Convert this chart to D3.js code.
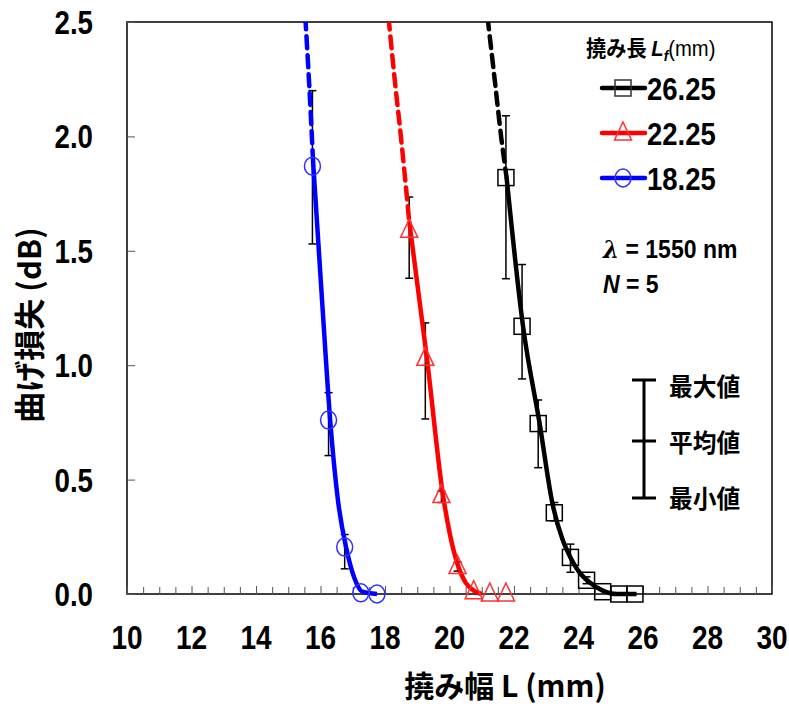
<!DOCTYPE html>
<html>
<head>
<meta charset="utf-8">
<script src="https://cdnjs.cloudflare.com/ajax/libs/d3/7.8.5/d3.min.js"></script>
<style>
body { margin: 0; background: #fff; }
svg text { font-family: "Liberation Sans", "Noto Sans CJK JP", sans-serif; font-weight: bold; }
.jp { font-family: "Noto Sans CJK JP", sans-serif; }
</style>
</head>
<body>
<script>
// tick values
var xTicks = [10, 12, 14, 16, 18, 20, 22, 24, 26, 28, 30];
var yTicks = [0.0, 0.5, 1.0, 1.5, 2.0, 2.5];

// legend labels (Lf, mm)
var seriesNames = ["26.25", "22.25", "18.25"];
var seriesColors = ["#000000", "#ff0000", "#0000ff"];
var markerColors = ["#000000", "#ff3030", "#3030ff"];
var markerTypes = ["square", "triangle", "circle"];

// measured points: mean, max, min
var blackX = [21.75, 22.25, 22.75, 23.25, 23.75, 24.25, 24.75, 25.25, 25.75];
var blackY = [1.82, 1.17, 0.745, 0.355, 0.16, 0.06, 0.01, 0.0, 0.0];
var blackMax = [2.09, 1.44, 0.848, 0.40, 0.218, 0.075, null, null, null];
var blackMin = [1.378, 0.94, 0.552, 0.32, 0.095, 0.045, null, null, null];

var redX = [18.75, 19.25, 19.75, 20.25, 20.75, 21.25, 21.75];
var redY = [1.59, 1.03, 0.43, 0.12, 0.01, 0.0, 0.0];
var redMax = [1.735, 1.185, 0.45, 0.14, null, null, null];
var redMin = [1.38, 0.765, 0.40, 0.10, null, null, null];

var blueX = [15.75, 16.25, 16.75, 17.25, 17.75];
var blueY = [1.87, 0.76, 0.205, 0.005, 0.0];
var blueMax = [2.2, 0.88, 0.26, null, null];
var blueMin = [1.53, 0.605, 0.11, null, null];

// fitted curves: solid part and dashed extension
var blackFit = [[21.77, 1.82], [22.28, 1.17], [22.8, 0.74], [23.2, 0.39], [23.5, 0.24], [23.75, 0.16], [24.0, 0.1], [24.35, 0.05], [24.75, 0.015], [25.2, 0.0], [25.8, 0.0]];
var blackExt = [[21.18, 2.52], [21.4, 2.25], [21.6, 2.0], [21.77, 1.82]];
var redFit = [[18.75, 1.63], [19.3, 1.03], [19.8, 0.43], [20.0, 0.27], [20.25, 0.13], [20.5, 0.05], [20.75, 0.015], [21.0, 0.0]];
var redExt = [[18.11, 2.52], [18.3, 2.25], [18.5, 1.99], [18.75, 1.63]];
var blueFit = [[15.77, 1.89], [16.05, 1.28], [16.3, 0.76], [16.55, 0.4], [16.8, 0.2], [17.05, 0.07], [17.3, 0.01], [17.75, 0.0]];
var blueExt = [[15.53, 2.52], [15.66, 2.2], [15.77, 1.89]];

var width = 789, height = 708;
var pLeft = 127, pRight = 772, pTop = 22, pBottom = 594;

var svg = d3.select("body").append("svg")
    .attr("width", width)
    .attr("height", height);

var x = d3.scaleLinear().domain([10, 30]).range([pLeft, pRight]);
var y = d3.scaleLinear().domain([0, 2.5]).range([pBottom, pTop]);

// narrow text: the original font is condensed
function narrowText(g, tx, ty, size, sx, anchor) {
    return g.append("text")
        .attr("transform", "translate(" + tx + "," + ty + ") scale(" + sx + ",1)")
        .attr("text-anchor", anchor || "start")
        .attr("font-size", size);
}

svg.append("defs").append("clipPath").attr("id", "plotclip")
    .append("rect").attr("x", pLeft).attr("y", pTop)
    .attr("width", pRight - pLeft).attr("height", pBottom - pTop + 20);

// frame
svg.append("rect")
    .attr("x", pLeft).attr("y", pTop)
    .attr("width", pRight - pLeft).attr("height", pBottom - pTop)
    .attr("fill", "none").attr("stroke", "#000").attr("stroke-width", 1.5);

// inner ticks
var xAxis = d3.axisTop(x).tickValues(d3.range(10, 30.01, 0.5)).tickSize(7).tickFormat("");
svg.append("g").attr("transform", "translate(0," + pBottom + ")").call(xAxis)
    .call(function(g){ g.select(".domain").remove(); })
    .selectAll(".tick line")
    .attr("y2", function(d){ return (d % 2 === 0) ? -8 : -7; })
    .attr("stroke", "#555").attr("stroke-width", 1);

var yAxis = d3.axisRight(y).tickValues(yTicks).tickSize(8).tickFormat("");
svg.append("g").attr("transform", "translate(" + pLeft + ",0)").call(yAxis)
    .call(function(g){ g.select(".domain").remove(); })
    .selectAll(".tick line").attr("stroke", "#555");

// tick labels
var xLab = svg.append("g");
xTicks.forEach(function(d){
    narrowText(xLab, x(d), 649, 33, 0.85, "middle").text(d);
});
var yLab = svg.append("g");
yTicks.forEach(function(d){
    narrowText(yLab, 93, y(d) + 12, 33, 0.84, "end").text(d.toFixed(1));
});

// axis titles
narrowText(svg, 505, 697, 30, 1, "middle").attr("class", "jp").text("撓み幅 L (mm)");
svg.append("text")
    .attr("class", "jp")
    .attr("transform", "translate(41,325) rotate(-90)")
    .attr("text-anchor", "middle")
    .attr("font-size", 31)
    .text("曲げ損失 (dB)");

var plot = svg.append("g").attr("clip-path", "url(#plotclip)");
var line = d3.line()
    .x(function(d){ return x(d[0]); })
    .y(function(d){ return y(d[1]); })
    .curve(d3.curveMonotoneX);

var series = [
    { xs: blackX, ys: blackY, hi: blackMax, lo: blackMin, fit: blackFit, ext: blackExt },
    { xs: redX, ys: redY, hi: redMax, lo: redMin, fit: redFit, ext: redExt },
    { xs: blueX, ys: blueY, hi: blueMax, lo: blueMin, fit: blueFit, ext: blueExt }
];

function drawMarker(g, type, cx, cy, color) {
    if (type === "square") {
        g.append("rect").attr("x", cx - 8).attr("y", cy - 8)
            .attr("width", 16).attr("height", 16)
            .attr("fill", "none").attr("stroke", color).attr("stroke-width", 1.5);
    } else if (type === "triangle") {
        g.append("path")
            .attr("d", "M" + cx + "," + (cy - 11) + "L" + (cx + 8.5) + "," + (cy + 7) + "L" + (cx - 8.5) + "," + (cy + 7) + "Z")
            .attr("fill", "none").attr("stroke", color).attr("stroke-width", 1.5);
    } else {
        g.append("ellipse").attr("cx", cx).attr("cy", cy)
            .attr("rx", 8).attr("ry", 9)
            .attr("fill", "none").attr("stroke", color).attr("stroke-width", 1.5);
    }
}

// error bars
series.forEach(function(s){
    s.xs.forEach(function(xv, i){
        if (s.hi[i] === null) return;
        var g = plot.append("g").attr("stroke", "#000").attr("stroke-width", 1.5);
        g.append("line").attr("x1", x(xv)).attr("x2", x(xv)).attr("y1", y(s.hi[i])).attr("y2", y(s.lo[i]));
        g.append("line").attr("x1", x(xv) - 4).attr("x2", x(xv) + 4).attr("y1", y(s.hi[i])).attr("y2", y(s.hi[i]));
        g.append("line").attr("x1", x(xv) - 4).attr("x2", x(xv) + 4).attr("y1", y(s.lo[i])).attr("y2", y(s.lo[i]));
    });
});

// fitted curves
series.forEach(function(s, k){
    plot.append("path").datum(s.ext).attr("d", line)
        .attr("fill", "none").attr("stroke", seriesColors[k])
        .attr("stroke-width", 4.5).attr("stroke-dasharray", "12,7")
        .attr("stroke-linecap", "round");
    plot.append("path").datum(s.fit).attr("d", line)
        .attr("fill", "none").attr("stroke", seriesColors[k])
        .attr("stroke-width", 4.5);
});

// markers
series.forEach(function(s, k){
    var g = svg.append("g");
    s.xs.forEach(function(xv, i){
        drawMarker(g, markerTypes[k], x(xv), y(s.ys[i]), markerColors[k]);
    });
});

// legend
var leg = svg.append("g");
var legTitle = narrowText(leg, 586, 56, 22, 0.92, "start");
legTitle.append("tspan").attr("class", "jp").text("撓み長 ");
legTitle.append("tspan").attr("font-style", "italic").text("L");
legTitle.append("tspan").attr("font-style", "italic").attr("font-size", 15).attr("dy", 5).text("f");
legTitle.append("tspan").attr("dy", -5).attr("font-weight", "normal").text("(mm)");

var legRows = [88, 133, 178];
seriesNames.forEach(function(name, k){
    leg.append("line").attr("x1", 602).attr("x2", 645)
        .attr("y1", legRows[k]).attr("y2", legRows[k])
        .attr("stroke", seriesColors[k]).attr("stroke-width", 4.5)
        .attr("stroke-linecap", "round");
    drawMarker(leg, markerTypes[k], 623, legRows[k], k === 0 ? "#333" : markerColors[k]);
    narrowText(leg, 647, legRows[k] + 11.5, 32, 0.86, "start").text(name);
});

// conditions
var t1 = narrowText(svg, 603, 258, 25, 0.92, "start");
t1.append("tspan").attr("font-family", "DejaVu Serif").attr("font-style", "italic").text("λ");
t1.append("tspan").text(" = 1550 nm");
var t2 = narrowText(svg, 603, 293, 25, 0.92, "start");
t2.append("tspan").attr("font-style", "italic").text("N");
t2.append("tspan").text(" = 5");

// error bar legend
var eb = svg.append("g").attr("stroke", "#000").attr("stroke-width", 3);
eb.append("line").attr("x1", 644).attr("x2", 644).attr("y1", 380).attr("y2", 498);
[380, 441, 498].forEach(function(yy){
    eb.append("line").attr("x1", 632).attr("x2", 656).attr("y1", yy).attr("y2", yy);
});
[["最大値", 396], ["平均値", 452], ["最小値", 508]].forEach(function(d){
    narrowText(svg, 669, d[1], 25, 0.95, "start").attr("class", "jp").text(d[0]);
});
</script>
</body>
</html>
